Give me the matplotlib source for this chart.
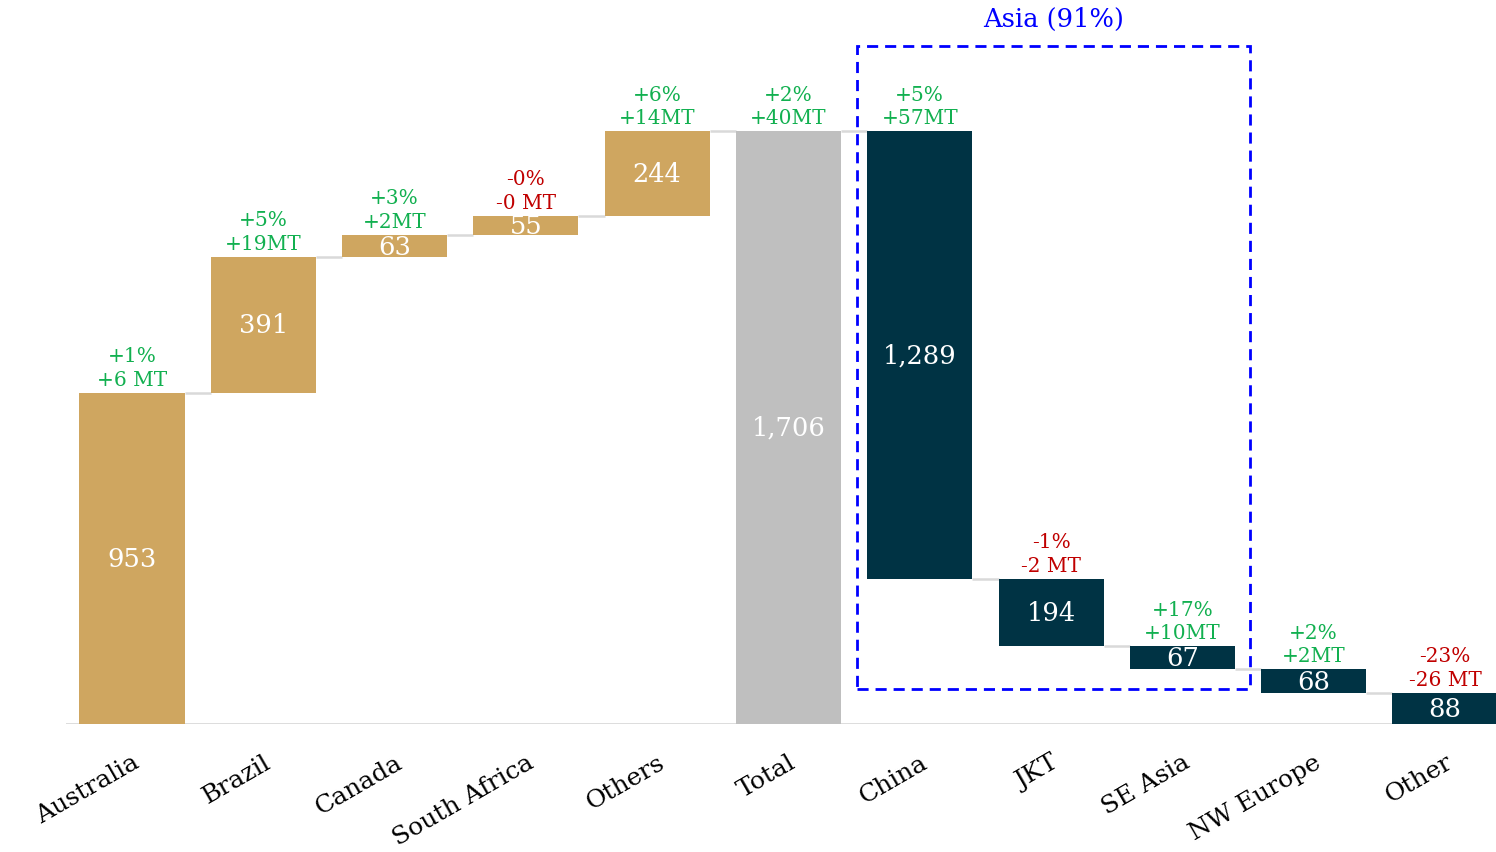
import numpy as np
import matplotlib.pyplot as plt
from matplotlib.patches import Rectangle

plt.rcParams['font.family'] = ['DejaVu Serif']

# Data
categories = ["Australia", "Brazil", "Canada", "South Africa", "Others", "Total",
              "China", "JKT", "SE Asia", "NW Europe", "Other"]
values = [953, 391, 63, 55, 244, 1706, 1289, 194, 67, 68, 88]
kinds = ["up", "up", "up", "up", "up", "total", "down", "down", "down", "down", "down"]
pct_labels = ["+1%", "+5%", "+3%", "-0%", "+6%", "+2%", "+5%", "-1%", "+17%", "+2%", "-23%"]
mt_labels = ["+6 MT", "+19MT", "+2MT", "-0 MT", "+14MT", "+40MT", "+57MT", "-2 MT", "+10MT", "+2MT", "-26 MT"]
asia_label = "Asia (91%)"

gold = "#CFA660"
grey = "#BFBFBF"
navy = "#003344"
green = "#12B050"
red = "#C00000"
blue = "#0000FF"
line_grey = "#D9D9D9"

# waterfall bottoms
bottoms = []
level = 0
for v, k in zip(values, kinds):
    if k == "up":
        bottoms.append(level)
        level += v
    elif k == "total":
        bottoms.append(0)
        level = v
    else:
        level -= v
        bottoms.append(level)
bottoms = np.array(bottoms)
vals = np.array(values)
tops = bottoms + vals
ends = np.where(np.array(kinds) == "down", bottoms, tops)
colors = [gold if k == "up" else grey if k == "total" else navy for k in kinds]

fig = plt.figure(figsize=(14.96, 8.53), dpi=100)
ax = fig.add_axes([0.04435, 0.1505, 0.9654, 0.814])
x = np.arange(len(categories))
w = 0.8

ax.bar(x, vals, bottom=bottoms, width=w, color=colors, zorder=3)

# connectors
for i in range(len(x) - 1):
    ax.plot([x[i] + w / 2, x[i + 1] - w / 2], [ends[i], ends[i]],
            color=line_grey, lw=1.8, zorder=2, solid_capstyle="butt")
ax.axhline(0, color=line_grey, lw=2, zorder=2)

# labels
for i in range(len(x)):
    ax.text(x[i], bottoms[i] + vals[i] / 2, f"{values[i]:,}", ha="center", va="center",
            color="white", fontsize=18.5, zorder=4)
    c = green if pct_labels[i].startswith("+") else red
    ax.annotate(pct_labels[i] + "\n" + mt_labels[i], (x[i], tops[i]), xytext=(0, 3),
                textcoords="offset points", ha="center", va="bottom", color=c,
                fontsize=14.5, linespacing=1.3)

# Asia box
ax.add_patch(Rectangle((5.52, 101), 8.515 - 5.52, 1952 - 101, fill=False, ec=blue,
                       lw=2, ls=(0, (4, 2.5)), clip_on=False, zorder=5))
ax.text((5.52 + 8.515) / 2, 2030, asia_label, ha="center", va="center", color=blue,
        fontsize=18.5, clip_on=False)

ax.set_xlim(-0.5, 10.5)
ax.set_ylim(0, 2000)
ax.set_xticks(x)
ax.set_xticklabels(categories, rotation=30, ha="right", rotation_mode="anchor", fontsize=18)
ax.tick_params(axis="x", length=0, pad=19)
ax.set_yticks([])
for s in ax.spines.values():
    s.set_visible(False)

fig.savefig("out.png", dpi=100)
